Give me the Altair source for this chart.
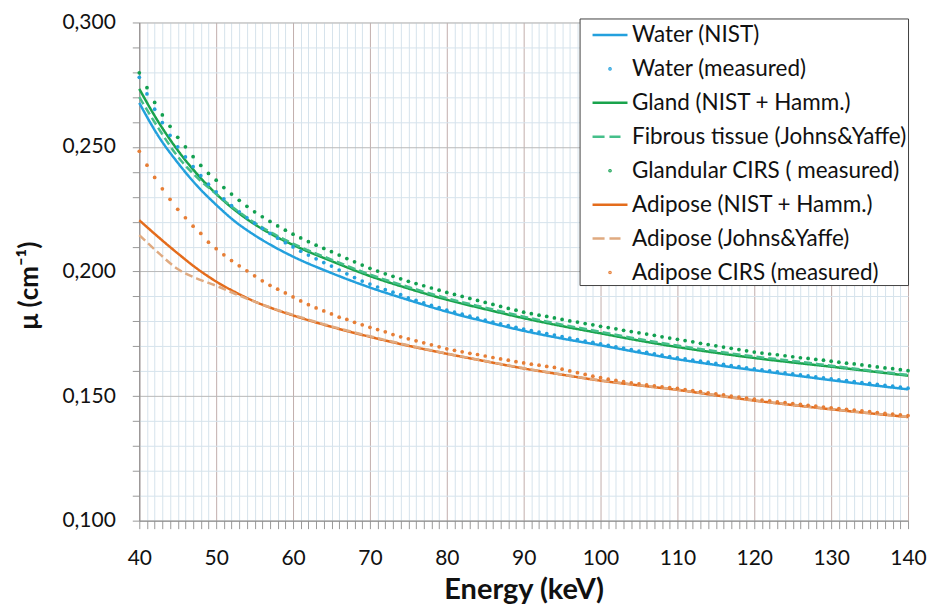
import altair as alt
import pandas as pd

# ---------------- data ----------------
series_names = [
    "Water (NIST)",
    "Water (measured)",
    "Gland (NIST + Hamm.)",
    "Fibrous tissue (Johns&Yaffe)",
    "Glandular CIRS ( measured)",
    "Adipose (NIST + Hamm.)",
    "Adipose (Johns&Yaffe)",
    "Adipose CIRS (measured)",
]
series_colors = ["#23a0dd", "#23a0dd", "#19a34c", "#45bf8a", "#12a050",
                 "#e46c1c", "#e0aa80", "#e67e36"]

energy_line = [40, 42.5, 45, 47.5, 50, 52.5, 55, 57.5, 60, 65, 70, 75, 80, 85,
               90, 95, 100, 105, 110, 115, 120, 125, 130, 135, 140]
water_nist = [0.2677, 0.2543, 0.2437, 0.2345, 0.2268, 0.2200, 0.2146, 0.2100, 0.2060,
              0.1994, 0.1936, 0.1886, 0.1839, 0.1799, 0.1762, 0.1731, 0.1704, 0.1675,
              0.1648, 0.1625, 0.1604, 0.1584, 0.1564, 0.1545, 0.1527]
gland_nist = [0.2733, 0.2600, 0.2487, 0.2392, 0.2312, 0.2245, 0.2190, 0.2145, 0.2107,
              0.2042, 0.1982, 0.1932, 0.1887, 0.1849, 0.1813, 0.1781, 0.1752, 0.1723,
              0.1697, 0.1674, 0.1653, 0.1635, 0.1618, 0.1600, 0.1582]
fibrous_jy = [0.2700, 0.2575, 0.2462, 0.2378, 0.2312, 0.2250, 0.2196, 0.2151, 0.2112,
              0.2048, 0.1988, 0.1938, 0.1893, 0.1855, 0.1819, 0.1787, 0.1758, 0.1729,
              0.1703, 0.1680, 0.1659, 0.1641, 0.1622, 0.1603, 0.1585]
adipose_nist = [0.2206, 0.2138, 0.2073, 0.2012, 0.1960, 0.1917, 0.1880, 0.1850, 0.1824,
                0.1778, 0.1738, 0.1702, 0.1670, 0.1640, 0.1611, 0.1586, 0.1562, 0.1543,
                0.1525, 0.1503, 0.1482, 0.1464, 0.1447, 0.1431, 0.1416]
adipose_jy = [0.2146, 0.2075, 0.2010, 0.1972, 0.1943, 0.1910, 0.1879, 0.1851, 0.1826,
              0.1780, 0.1740, 0.1704, 0.1671, 0.1641, 0.1612, 0.1587, 0.1563, 0.1544,
              0.1526, 0.1504, 0.1483, 0.1465, 0.1448, 0.1432, 0.1417]

energy_meas = list(range(40, 141))
water_meas = [
    0.2780, 0.2713, 0.2652, 0.2598, 0.2547, 0.2501, 0.2460, 0.2421, 0.2385, 0.2351,
    0.2320, 0.2292, 0.2265, 0.2240, 0.2216, 0.2194, 0.2173, 0.2153, 0.2134, 0.2116,
    0.2099, 0.2082, 0.2066, 0.2051, 0.2036, 0.2022, 0.2006, 0.1991, 0.1976, 0.1962,
    0.1950, 0.1938, 0.1927, 0.1917, 0.1907, 0.1894, 0.1884, 0.1874, 0.1864, 0.1855,
    0.1845, 0.1837, 0.1829, 0.1821, 0.1813, 0.1805, 0.1797, 0.1790, 0.1783, 0.1776,
    0.1769, 0.1763, 0.1757, 0.1751, 0.1745, 0.1739, 0.1733, 0.1727, 0.1721, 0.1716,
    0.1710, 0.1704, 0.1698, 0.1693, 0.1687, 0.1681, 0.1676, 0.1670, 0.1665, 0.1659,
    0.1653, 0.1649, 0.1644, 0.1640, 0.1636, 0.1631, 0.1627, 0.1622, 0.1618, 0.1613,
    0.1609, 0.1605, 0.1601, 0.1597, 0.1593, 0.1589, 0.1585, 0.1581, 0.1577, 0.1573,
    0.1569, 0.1565, 0.1562, 0.1558, 0.1554, 0.1551, 0.1547, 0.1543, 0.1540, 0.1536,
    0.1532]
gland_meas = [
    0.2798, 0.2738, 0.2679, 0.2629, 0.2583, 0.2539, 0.2501, 0.2461, 0.2426, 0.2394,
    0.2367, 0.2337, 0.2311, 0.2286, 0.2262, 0.2240, 0.2220, 0.2201, 0.2183, 0.2166,
    0.2150, 0.2135, 0.2120, 0.2106, 0.2093, 0.2080, 0.2066, 0.2052, 0.2039, 0.2026,
    0.2013, 0.2002, 0.1991, 0.1981, 0.1971, 0.1961, 0.1952, 0.1943, 0.1934, 0.1925,
    0.1916, 0.1908, 0.1900, 0.1892, 0.1884, 0.1876, 0.1868, 0.1860, 0.1852, 0.1845,
    0.1837, 0.1831, 0.1825, 0.1820, 0.1814, 0.1808, 0.1802, 0.1797, 0.1791, 0.1786,
    0.1780, 0.1775, 0.1770, 0.1764, 0.1759, 0.1754, 0.1749, 0.1744, 0.1738, 0.1733,
    0.1728, 0.1723, 0.1718, 0.1712, 0.1707, 0.1702, 0.1697, 0.1692, 0.1687, 0.1682,
    0.1677, 0.1673, 0.1669, 0.1666, 0.1662, 0.1658, 0.1654, 0.1651, 0.1647, 0.1644,
    0.1640, 0.1636, 0.1632, 0.1629, 0.1625, 0.1621, 0.1617, 0.1613, 0.1610, 0.1606,
    0.1602]
adipose_meas = [
    0.2483, 0.2427, 0.2378, 0.2332, 0.2290, 0.2250, 0.2216, 0.2182, 0.2153, 0.2118,
    0.2092, 0.2067, 0.2044, 0.2023, 0.2003, 0.1983, 0.1963, 0.1945, 0.1929, 0.1914,
    0.1898, 0.1882, 0.1867, 0.1854, 0.1842, 0.1830, 0.1817, 0.1808, 0.1796, 0.1786,
    0.1776, 0.1767, 0.1758, 0.1747, 0.1738, 0.1730, 0.1722, 0.1714, 0.1706, 0.1698,
    0.1690, 0.1684, 0.1678, 0.1672, 0.1667, 0.1661, 0.1655, 0.1649, 0.1644, 0.1638,
    0.1633, 0.1628, 0.1624, 0.1619, 0.1615, 0.1608, 0.1601, 0.1594, 0.1587, 0.1580,
    0.1574, 0.1568, 0.1563, 0.1558, 0.1553, 0.1549, 0.1545, 0.1541, 0.1537, 0.1534,
    0.1531, 0.1526, 0.1522, 0.1518, 0.1513, 0.1509, 0.1505, 0.1500, 0.1496, 0.1492,
    0.1488, 0.1484, 0.1481, 0.1477, 0.1474, 0.1470, 0.1467, 0.1463, 0.1460, 0.1456,
    0.1453, 0.1450, 0.1447, 0.1444, 0.1441, 0.1438, 0.1434, 0.1431, 0.1428, 0.1425,
    0.1422]

x_ticks = list(range(40, 141))
y_ticks = [round(0.10 + 0.01 * i, 2) for i in range(21)]

# ---------------- tables ----------------
line_series = {
    "Water (NIST)": water_nist,
    "Gland (NIST + Hamm.)": gland_nist,
    "Fibrous tissue (Johns&Yaffe)": fibrous_jy,
    "Adipose (NIST + Hamm.)": adipose_nist,
    "Adipose (Johns&Yaffe)": adipose_jy,
}
lines_df = pd.concat(
    [pd.DataFrame({"energy": energy_line, "mu": v, "series": k}) for k, v in line_series.items()],
    ignore_index=True)
meas_series = {
    "Water (measured)": water_meas,
    "Glandular CIRS ( measured)": gland_meas,
    "Adipose CIRS (measured)": adipose_meas,
}
meas_df = pd.concat(
    [pd.DataFrame({"energy": energy_meas, "mu": v, "series": k}) for k, v in meas_series.items()],
    ignore_index=True)
legend_df = pd.DataFrame({"series": series_names})

# ---------------- scales / axes ----------------
color_scale = alt.Scale(domain=series_names, range=series_colors)
LINE = "M-1.25,0H1.25"
DOT = "M0,-0.04A0.04,0.04,0,1,1,0,0.04A0.04,0.04,0,1,1,0,-0.04Z"
DASH = "M-1.25,0H-0.39M-0.04,0H0.75"
shape_scale = alt.Scale(domain=series_names,
                        range=[LINE, DOT, LINE, DASH, DOT, LINE, DASH, DOT])
dash_scale = alt.Scale(domain=list(line_series.keys()),
                       range=[[1, 0], [1, 0], [8, 4], [1, 0], [8, 4]])

FONT = "Lato"
x_axis = alt.Axis(
    values=x_ticks,
    labelExpr="datum.value % 10 === 0 ? datum.value : ''",
    labelFlush=False,
    gridColor={"condition": {"test": "datum.value % 10 === 0", "value": "#c2aeac"},
               "value": "#d6e3ec"},
    tickColor="#9a9a9a", tickSize=8, domainColor="#8a8a8a",
    labelFont=FONT, labelFontSize=21, labelColor="#111111", labelPadding=19,
    title="Energy (keV)", titleFont=FONT, titleFontSize=29, titleFontWeight="bold",
    titleColor="#111111", titleBaseline="alphabetic", titleY=78,
)
y_axis = alt.Axis(
    values=y_ticks,
    labelExpr="round(datum.value*1000) % 50 === 0 ? replace(format(datum.value, '.3f'), '.', ',') : ''",
    labelFlush=False,
    gridColor={"condition": {"test": "round(datum.value*1000) % 50 === 0", "value": "#b8b8b8"},
               "value": "#d6e3ec"},
    tickColor="#9a9a9a", tickSize=7, domainColor="#8a8a8a",
    labelFont=FONT, labelFontSize=21, labelColor="#111111", labelPadding=17,
    title="μ (cm⁻¹)", titleFont=FONT, titleFontSize=26, titleFontWeight="bold",
    titleColor="#111111", titleBaseline="alphabetic", titleX=-102, titleY=263,
    titleAngle=270,
)

x_enc = alt.X("energy:Q", scale=alt.Scale(domain=[40, 140], nice=False), axis=x_axis)
y_enc = alt.Y("mu:Q", scale=alt.Scale(domain=[0.1, 0.3], nice=False), axis=y_axis)

leg = alt.Legend(title=None, orient="none", legendX=441, legendY=-4,
                 padding=1, rowPadding=7.0, symbolSize=784, symbolOffset=14,
                 labelOffset=6.5, labelFont=FONT, labelFontSize=22.5, labelColor="#111111",
                 labelLimit=400, strokeColor="#404040", fillColor="white",
                 symbolStrokeWidth=2.5, symbolOpacity=1)
# legend-only layer first, so that its legend settings win when layers are merged
legend_layer = alt.Chart(legend_df).mark_point(opacity=0, filled=False).encode(
    color=alt.Color("series:N", scale=color_scale, legend=leg),
    shape=alt.Shape("series:N", scale=shape_scale, legend=leg),
)
lines = alt.Chart(lines_df).mark_line(strokeWidth=2.5, interpolate="monotone").encode(
    x=x_enc, y=y_enc,
    color=alt.Color("series:N", scale=color_scale),
    strokeDash=alt.StrokeDash("series:N", scale=dash_scale, legend=None),
)
dots = alt.Chart(meas_df).mark_circle(size=14, opacity=1).encode(
    x=x_enc, y=y_enc,
    color=alt.Color("series:N", scale=color_scale),
)

chart = alt.layer(legend_layer, lines, dots).properties(
    width=770, height=499,
    padding={"left": 8.5, "top": 3, "right": 0, "bottom": 0},
).configure_view(stroke="#8a8a8a", strokeWidth=1.2).configure(font=FONT)

chart.save("out.html", embed_options={"renderer": "svg", "actions": False})
